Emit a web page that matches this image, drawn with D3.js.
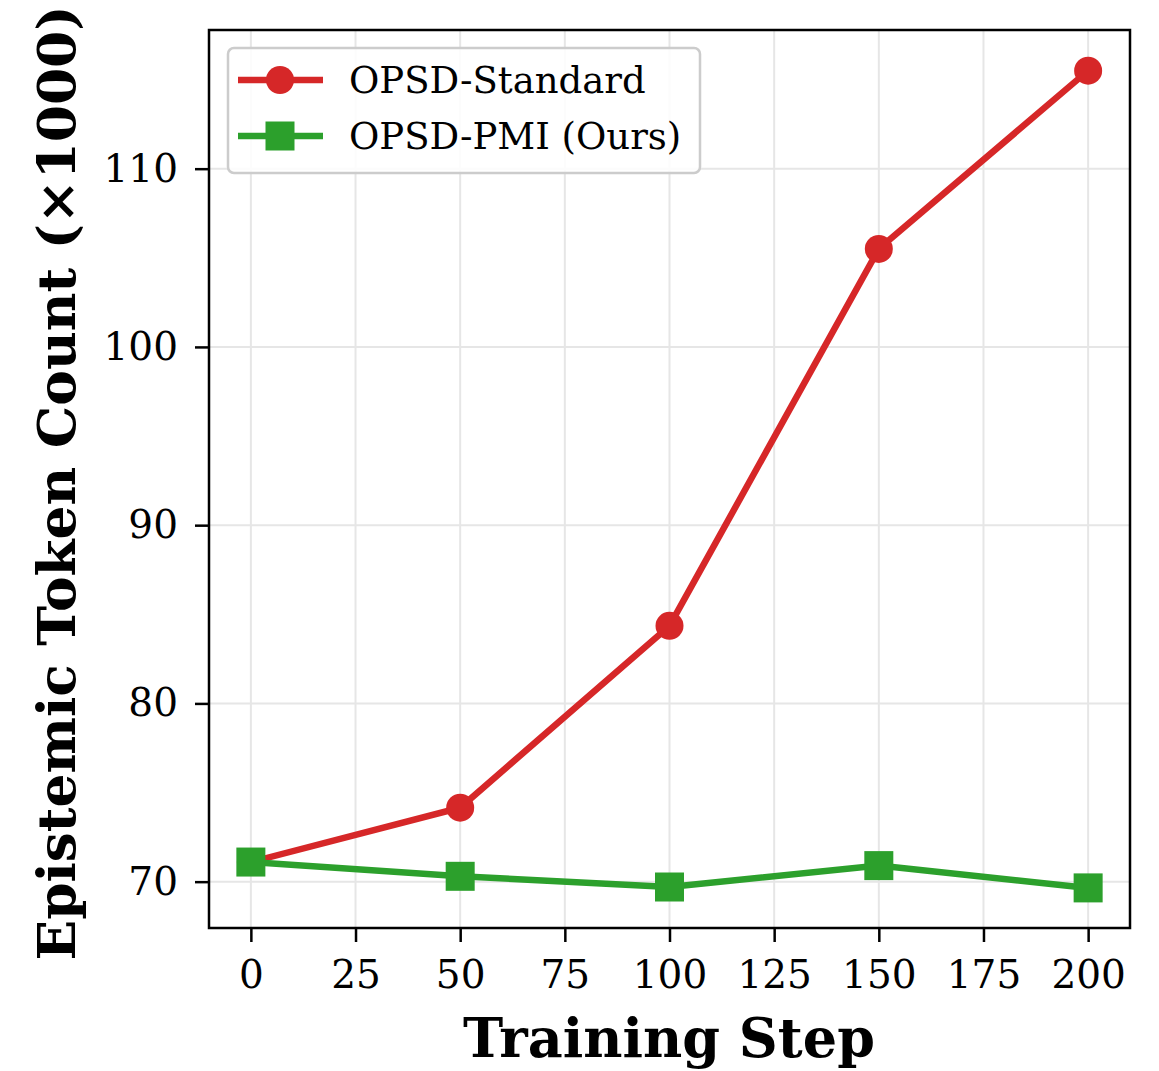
<!DOCTYPE html>
<html lang="en">
<head>
<meta charset="utf-8">
<title>Epistemic Token Count</title>
<script src="https://cdn.jsdelivr.net/npm/d3@7"></script>
<style>
  body { margin: 0; background: #ffffff; }
  text { font-family: "DejaVu Serif", serif; }
</style>
</head>
<body>
<div id="chart"></div>
<script>
// ---------------- data ----------------
var steps = [0, 50, 100, 150, 200];
var standardVals = [71.1, 74.15, 84.35, 105.5, 115.5];
var pmiVals = [71.1, 70.3, 69.7, 70.9, 69.65];
var xTicks = [0, 25, 50, 75, 100, 125, 150, 175, 200];
var yTicks = [70, 80, 90, 100, 110];
var seriesNames = ["OPSD-Standard", "OPSD-PMI (Ours)"];
var seriesColors = ["#d62728", "#2ca02c"];

var width = 1159, height = 1071;
var margin = {top: 30, right: 29, bottom: 143, left: 209};
var plotW = width - margin.left - margin.right;
var plotH = height - margin.top - margin.bottom;

var svg = d3.select("#chart").append("svg")
    .attr("width", width)
    .attr("height", height);

var g = svg.append("g")
    .attr("transform", "translate(" + margin.left + "," + margin.top + ")");

var x = d3.scaleLinear().domain([-10, 210]).range([0, plotW]);
var y = d3.scaleLinear().domain([67.4, 117.78]).range([plotH, 0]);

// grid
g.selectAll(".vgrid").data(xTicks).enter().append("line")
    .attr("x1", d => x(d)).attr("x2", d => x(d))
    .attr("y1", 0).attr("y2", plotH)
    .attr("stroke", "#e6e6e6").attr("stroke-width", 2);
g.selectAll(".hgrid").data(yTicks).enter().append("line")
    .attr("x1", 0).attr("x2", plotW)
    .attr("y1", d => y(d)).attr("y2", d => y(d))
    .attr("stroke", "#e6e6e6").attr("stroke-width", 2);

// axes
var xAxis = g.append("g")
    .attr("transform", "translate(0," + plotH + ")")
    .call(d3.axisBottom(x).tickValues(xTicks).tickSize(14).tickPadding(18).tickFormat(d3.format("d")));
var yAxis = g.append("g")
    .call(d3.axisLeft(y).tickValues(yTicks).tickSize(14).tickPadding(17).tickFormat(d3.format("d")));

[xAxis, yAxis].forEach(function(a) {
  a.select(".domain").remove();
  a.selectAll(".tick line").attr("stroke", "#000").attr("stroke-width", 2.5);
  a.selectAll(".tick text")
    .attr("font-family", "DejaVu Serif")
    .attr("font-size", "39px")
    .attr("fill", "#000");
});

// lines + markers
var line = d3.line().x(d => x(d[0])).y(d => y(d[1]));
var standardPts = steps.map((s, i) => [s, standardVals[i]]);
var pmiPts = steps.map((s, i) => [s, pmiVals[i]]);

g.append("path").datum(standardPts)
    .attr("d", line).attr("fill", "none")
    .attr("stroke", seriesColors[0]).attr("stroke-width", 6.5);
g.selectAll(".dot").data(standardPts).enter().append("circle")
    .attr("cx", d => x(d[0])).attr("cy", d => y(d[1]))
    .attr("r", 14).attr("fill", seriesColors[0]);

g.append("path").datum(pmiPts)
    .attr("d", line).attr("fill", "none")
    .attr("stroke", seriesColors[1]).attr("stroke-width", 6.5);
g.selectAll(".sq").data(pmiPts).enter().append("rect")
    .attr("x", d => x(d[0]) - 14.5).attr("y", d => y(d[1]) - 14.5)
    .attr("width", 29).attr("height", 29).attr("fill", seriesColors[1]);

// frame
g.append("rect")
    .attr("x", 0).attr("y", 0).attr("width", plotW).attr("height", plotH)
    .attr("fill", "none").attr("stroke", "#000").attr("stroke-width", 2.5);

// legend
var leg = g.append("g").attr("transform", "translate(19,18)");
leg.append("rect")
    .attr("x", 0).attr("y", 0).attr("width", 472).attr("height", 125)
    .attr("rx", 6).attr("fill", "#fff").attr("fill-opacity", 0.85)
    .attr("stroke", "#cccccc").attr("stroke-width", 2.5);
seriesNames.forEach(function(name, i) {
  var cy = 32 + i * 56;
  leg.append("line")
      .attr("x1", 10).attr("x2", 95).attr("y1", cy).attr("y2", cy)
      .attr("stroke", seriesColors[i]).attr("stroke-width", 6.5);
  if (i === 0) {
    leg.append("circle").attr("cx", 52).attr("cy", cy).attr("r", 14).attr("fill", seriesColors[i]);
  } else {
    leg.append("rect").attr("x", 52 - 14.5).attr("y", cy - 14.5)
       .attr("width", 29).attr("height", 29).attr("fill", seriesColors[i]);
  }
  leg.append("text")
      .attr("x", 121).attr("y", cy + 13)
      .attr("font-size", "37px").attr("fill", "#000")
      .text(name);
});

// axis labels
svg.append("text")
    .attr("x", 669).attr("y", 1057)
    .attr("text-anchor", "middle")
    .attr("font-size", "54px").attr("font-weight", "bold")
    .attr("fill", "#000")
    .text("Training Step");

svg.append("text")
    .attr("transform", "translate(75," + 483 + ") rotate(-90)")
    .attr("text-anchor", "middle")
    .attr("font-size", "53px").attr("font-weight", "bold")
    .attr("textLength", 955).attr("lengthAdjust", "spacingAndGlyphs")
    .attr("fill", "#000")
    .text("Epistemic Token Count (×1000)");
</script>
</body>
</html>
